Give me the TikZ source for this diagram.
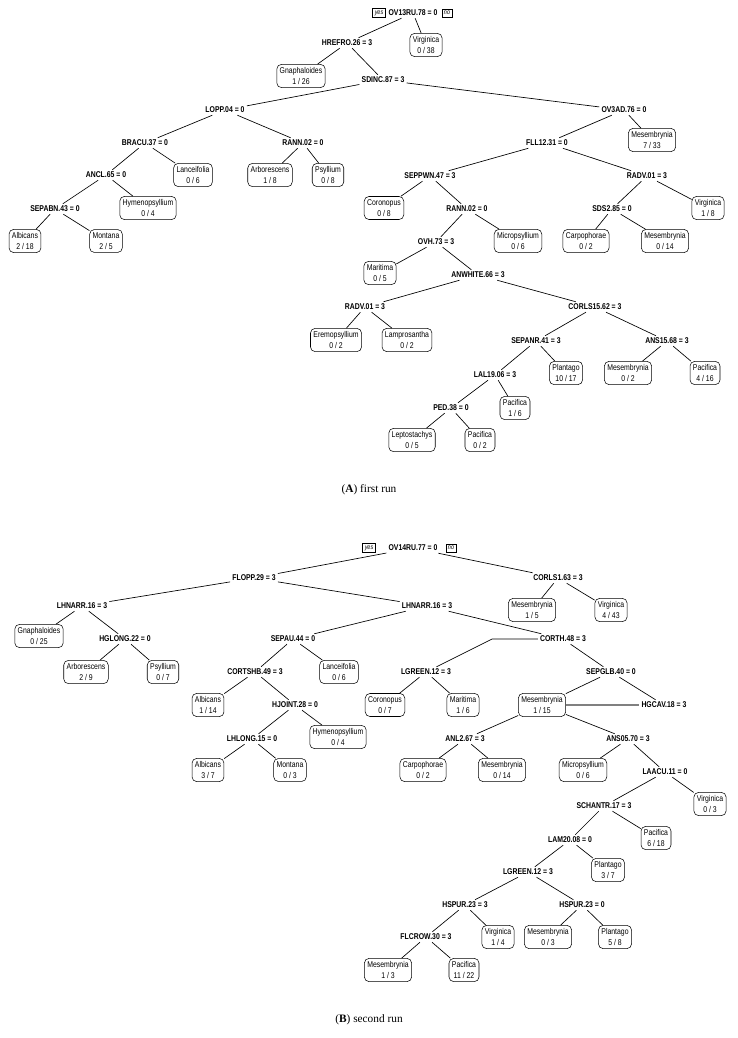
\documentclass[tikz,border=0pt]{standalone}
\usepackage{fontspec}
\setmainfont{Liberation Serif}
\newfontfamily\sfn[FakeStretch=0.82]{Liberation Sans}
\begin{document}
\begin{tikzpicture}[x=0.75pt,y=-0.75pt,
  sp/.style={font=\sfn\bfseries\fontsize{6.3}{7}\selectfont,inner sep=1.5pt},
  lf/.style={draw,rounded corners=3.5pt,font=\sfn\fontsize{6.3}{8.4}\selectfont,align=center,inner xsep=2.2pt,inner ysep=2.2pt},
  yn/.style={draw,font=\sfn\itshape\fontsize{5}{5.5}\selectfont,inner sep=1.6pt},
  ed/.style={line width=0.5pt},
  captxt/.style={font=\fontsize{8.5}{10}\selectfont}]
\useasboundingbox (0,0) rectangle (738,1038);
% ---------- Tree A
\node[yn] (ya) at (379,13) {yes};
\node[sp] (a0) at (413,13) {OV13RU.78 = 0};
\node[yn] (na) at (447,13) {no};
\node[sp] (a1) at (347,43) {HREFRO.26 = 3};
\node[lf] (a2) at (426,45) {Virginica\\0 / 38};
\node[lf] (a3) at (301,76) {Gnaphaloides\\1 / 26};
\node[sp] (a4) at (383,80) {SDINC.87 = 3};
\node[sp] (a5) at (225,110) {LOPP.04 = 0};
\node[sp] (a6) at (624,110) {OV3AD.76 = 0};
\node[sp] (a7) at (145,143) {BRACU.37 = 0};
\node[sp] (a8) at (303,143) {RANN.02 = 0};
\node[sp] (a9) at (547,143) {FLL12.31 = 0};
\node[lf] (a10) at (652,140) {Mesembrynia\\7 / 33};
\node[sp] (a11) at (106,175) {ANCL.65 = 0};
\node[lf] (a12) at (193,175) {Lanceifolia\\0 / 6};
\node[lf] (a13) at (270,175) {Arborescens\\1 / 8};
\node[lf] (a14) at (328,175) {Psyllium\\0 / 8};
\node[sp] (a15) at (430,176) {SEPPWN.47 = 3};
\node[sp] (a16) at (647,176) {RADV.01 = 3};
\node[sp] (a17) at (55,209) {SEPABN.43 = 0};
\node[lf] (a18) at (148,208) {Hymenopsyllium\\0 / 4};
\node[lf] (a19) at (384,208) {Coronopus\\0 / 8};
\node[sp] (a20) at (467,209) {RANN.02 = 0};
\node[sp] (a21) at (612,209) {SDS2.85 = 0};
\node[lf] (a22) at (708,208) {Virginica\\1 / 8};
\node[lf] (a23) at (25,241) {Albicans\\2 / 18};
\node[lf] (a24) at (106,241) {Montana\\2 / 5};
\node[sp] (a25) at (436,242) {OVH.73 = 3};
\node[lf] (a26) at (518,241) {Micropsyllium\\0 / 6};
\node[lf] (a27) at (586,241) {Carpophorae\\0 / 2};
\node[lf] (a28) at (665,241) {Mesembrynia\\0 / 14};
\node[lf] (a29) at (380,273) {Maritima\\0 / 5};
\node[sp] (a30) at (478,275) {ANWHITE.66 = 3};
\node[sp] (a31) at (365,307) {RADV.01 = 3};
\node[sp] (a32) at (595,307) {CORLS15.62 = 3};
\node[lf] (a33) at (336,340) {Eremopsyllium\\0 / 2};
\node[lf] (a34) at (407,340) {Lamprosantha\\0 / 2};
\node[sp] (a35) at (536,341) {SEPANR.41 = 3};
\node[sp] (a36) at (667,341) {ANS15.68 = 3};
\node[sp] (a37) at (495,375) {LAL19.06 = 3};
\node[lf] (a38) at (566,373) {Plantago\\10 / 17};
\node[lf] (a39) at (628,373) {Mesembrynia\\0 / 2};
\node[lf] (a40) at (705,373) {Pacifica\\4 / 16};
\node[sp] (a41) at (451,408) {PED.38 = 0};
\node[lf] (a42) at (515,408) {Pacifica\\1 / 6};
\node[lf] (a43) at (412,440) {Leptostachys\\0 / 5};
\node[lf] (a44) at (480,440) {Pacifica\\0 / 2};
\node[captxt] (ca) at (369,490) {(\textbf{A}) first run};
\foreach \p/\c in {a0/a1,a0/a2,a1/a3,a1/a4,a4/a5,a4/a6,a5/a7,a5/a8,a6/a9,a6/a10,
  a7/a11,a7/a12,a8/a13,a8/a14,a9/a15,a9/a16,a11/a17,a11/a18,a15/a19,a15/a20,a16/a21,a16/a22,
  a17/a23,a17/a24,a20/a25,a20/a26,a21/a27,a21/a28,a25/a29,a25/a30,a30/a31,a30/a32,
  a31/a33,a31/a34,a32/a35,a32/a36,a35/a37,a35/a38,a36/a39,a36/a40,a37/a41,a37/a42,a41/a43,a41/a44}
  \draw[ed] (\p) -- (\c);
% ---------- Tree B
\node[yn] (yb) at (369,548) {yes};
\node[sp] (b0) at (413,548) {OV14RU.77 = 0};
\node[yn] (nb) at (451,548) {no};
\node[sp] (b1) at (254,578) {FLOPP.29 = 3};
\node[sp] (b2) at (558,578) {CORLS1.63 = 3};
\node[sp] (b3) at (82,606) {LHNARR.16 = 3};
\node[sp] (b4) at (427,606) {LHNARR.16 = 3};
\node[lf] (b5) at (532,610) {Mesembrynia\\1 / 5};
\node[lf] (b6) at (611,610) {Virginica\\4 / 43};
\node[lf] (b7) at (39,636) {Gnaphaloides\\0 / 25};
\node[sp] (b8) at (125,639) {HGLONG.22 = 0};
\node[sp] (b9) at (293,639) {SEPAU.44 = 0};
\node[sp] (b10) at (563,639) {CORTH.48 = 3};
\node[lf] (b11) at (86,672) {Arborescens\\2 / 9};
\node[lf] (b12) at (163,672) {Psyllium\\0 / 7};
\node[sp] (b13) at (255,672) {CORTSHB.49 = 3};
\node[lf] (b14) at (339,672) {Lanceifolia\\0 / 6};
\node[sp] (b15) at (426,672) {LGREEN.12 = 3};
\node[sp] (b16) at (611,672) {SEPGLB.40 = 0};
\node[lf] (b17) at (208,705) {Albicans\\1 / 14};
\node[sp] (b18) at (295,705) {HJOINT.28 = 0};
\node[lf] (b19) at (385,705) {Coronopus\\0 / 7};
\node[lf] (b20) at (463,705) {Maritima\\1 / 6};
\node[lf] (b21) at (542,705) {Mesembrynia\\1 / 15};
\node[sp] (b22) at (664,705) {HGCAV.18 = 3};
\node[sp] (b23) at (252,739) {LHLONG.15 = 0};
\node[lf] (b24) at (338,737) {Hymenopsyllium\\0 / 4};
\node[sp] (b25) at (465,739) {ANL2.67 = 3};
\node[sp] (b26) at (628,739) {ANS05.70 = 3};
\node[lf] (b27) at (208,770) {Albicans\\3 / 7};
\node[lf] (b28) at (290,770) {Montana\\0 / 3};
\node[lf] (b29) at (423,770) {Carpophorae\\0 / 2};
\node[lf] (b30) at (502,770) {Mesembrynia\\0 / 14};
\node[lf] (b31) at (583,770) {Micropsyllium\\0 / 6};
\node[sp] (b32) at (665,772) {LAACU.11 = 0};
\node[sp] (b33) at (604,806) {SCHANTR.17 = 3};
\node[lf] (b34) at (710,804) {Virginica\\0 / 3};
\node[sp] (b35) at (570,840) {LAM20.08 = 0};
\node[lf] (b36) at (656,838) {Pacifica\\6 / 18};
\node[sp] (b37) at (528,872) {LGREEN.12 = 3};
\node[lf] (b38) at (608,870) {Plantago\\3 / 7};
\node[sp] (b39) at (465,905) {HSPUR.23 = 3};
\node[sp] (b40) at (582,905) {HSPUR.23 = 0};
\node[sp] (b41) at (426,937) {FLCROW.30 = 3};
\node[lf] (b42) at (498,937) {Virginica\\1 / 4};
\node[lf] (b43) at (548,937) {Mesembrynia\\0 / 3};
\node[lf] (b44) at (615,937) {Plantago\\5 / 8};
\node[lf] (b45) at (388,970) {Mesembrynia\\1 / 3};
\node[lf] (b46) at (464,970) {Pacifica\\11 / 22};
\node[captxt] (cb) at (369,1020) {(\textbf{B}) second run};
\foreach \p/\c in {b0/b1,b0/b2,b1/b3,b1/b4,b2/b5,b2/b6,b3/b7,b3/b8,b4/b9,b4/b10,
  b8/b11,b8/b12,b9/b13,b9/b14,b10/b16,b13/b17,b13/b18,b15/b19,b15/b20,b16/b21,b16/b22,
  b18/b23,b18/b24,b21/b25,b21/b26,b23/b27,b23/b28,b25/b29,b25/b30,b26/b31,b26/b32,
  b32/b33,b32/b34,b33/b35,b33/b36,b35/b37,b35/b38,b37/b39,b37/b40,b39/b41,b39/b42,
  b40/b43,b40/b44,b41/b45,b41/b46}
  \draw[ed] (\p) -- (\c);
\coordinate (kb) at (492,639);
\draw[ed] (b10.west) -- (kb) -- (b15);
\draw[line width=0.8pt,gray] (b21.east) -- (b22.west);
\end{tikzpicture}
\end{document}
